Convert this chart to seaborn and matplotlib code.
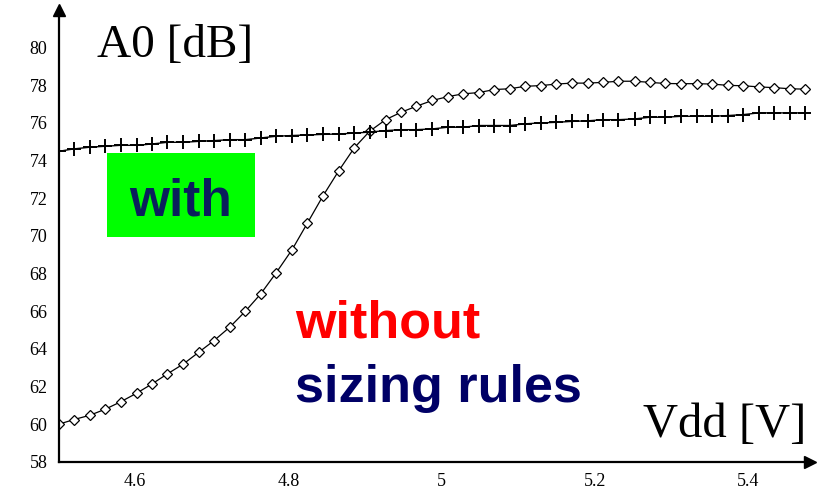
import numpy as np
import pandas as pd
import seaborn as sns
import matplotlib.pyplot as plt
from matplotlib.patches import Rectangle

# Vdd sweep (V)
vdd = [4.500, 4.520, 4.541, 4.561, 4.581, 4.602, 4.622, 4.642, 4.663, 4.683,
       4.703, 4.724, 4.744, 4.764, 4.784, 4.805, 4.825, 4.845, 4.866, 4.886,
       4.906, 4.927, 4.947, 4.967, 4.988, 5.008, 5.028, 5.049, 5.069, 5.089,
       5.109, 5.130, 5.150, 5.170, 5.191, 5.211, 5.231, 5.252, 5.272, 5.292,
       5.313, 5.333, 5.353, 5.374, 5.394, 5.414, 5.434, 5.455, 5.475]

# A0 without sizing rules (dB)
a0_without = [60.0, 60.25, 60.48, 60.8, 61.19, 61.65, 62.14, 62.67, 63.2, 63.82,
              64.44, 65.17, 66.0, 66.92, 68.03, 69.27, 70.68, 72.1, 73.46, 74.66,
              75.54, 76.16, 76.55, 76.87, 77.18, 77.38, 77.53, 77.6, 77.76, 77.8,
              77.93, 77.97, 78.05, 78.1, 78.1, 78.14, 78.2, 78.2, 78.14, 78.08,
              78.07, 78.07, 78.05, 77.98, 77.96, 77.9, 77.86, 77.8, 77.78]

# A0 with sizing rules (dB)
a0_with = [74.48, 74.61, 74.7, 74.75, 74.8, 74.8, 74.87, 74.96, 74.96, 75.01,
           75.05, 75.1, 75.1, 75.19, 75.28, 75.32, 75.35, 75.38, 75.4, 75.45,
           75.5, 75.58, 75.63, 75.63, 75.67, 75.76, 75.76, 75.85, 75.85, 75.85,
           75.94, 75.99, 76.02, 76.07, 76.1, 76.16, 76.16, 76.2, 76.29, 76.29,
           76.34, 76.34, 76.34, 76.38, 76.43, 76.52, 76.52, 76.52, 76.52]

x_ticks = [4.6, 4.8, 5.0, 5.2, 5.4]
x_ticklabels = ["4.6", "4.8", "5", "5.2", "5.4"]
y_ticks = [58, 60, 62, 64, 66, 68, 70, 72, 74, 76, 78, 80]

df = pd.DataFrame({"vdd": vdd, "without": a0_without, "with": a0_with})

sns.set_style("white")
plt.rcParams["font.family"] = ["Liberation Serif", "DejaVu Serif"]

fig = plt.figure(figsize=(8.35, 4.92), dpi=100)
ax = fig.add_axes([58.5 / 835, 30 / 492, (810 - 58.5) / 835, (462.4 - 10) / 492])

sns.lineplot(data=df, x="vdd", y="without", ax=ax, color="black", lw=0.9,
             marker="D", markersize=5, markerfacecolor="white",
             markeredgecolor="black", markeredgewidth=0.9)
sns.lineplot(data=df, x="vdd", y="with", ax=ax, color="black", lw=1.0,
             marker="+", markersize=10, markeredgewidth=1.4,
             markeredgecolor="black", markerfacecolor="black")

ax.set_xlim(4.5, 5.481)
ax.set_ylim(58, 82.0)
ax.set_xticks(x_ticks)
ax.set_xticklabels(x_ticklabels)
ax.set_yticks(y_ticks)
ax.set_xlabel("")
ax.set_ylabel("")
for s in ["top", "right"]:
    ax.spines[s].set_visible(False)
for s in ["left", "bottom"]:
    ax.spines[s].set_color("black")
    ax.spines[s].set_linewidth(1.6)
ax.tick_params(direction="in", length=8, width=1.3, labelsize=13,
               colors="black", pad=8)

# axis arrows
ax.plot([1.0], [0.0], marker=">", ms=8, color="black",
        transform=ax.transAxes, clip_on=False)
ax.plot([0.0], [1.0], marker="^", ms=8, color="black",
        transform=ax.transAxes, clip_on=False)

# axis titles inside the plot
fig.text(97 / 835, 1 - 57 / 492, "A0 [dB]", fontsize=34, color="black",
         ha="left", va="baseline")
fig.text(643 / 835, 1 - 437 / 492, "Vdd [V]", fontsize=35, color="black",
         ha="left", va="baseline")

# annotations
fig.patches.append(Rectangle((107 / 835, 1 - 237 / 492), 148 / 835, 84 / 492,
                             transform=fig.transFigure, facecolor="#00ff00",
                             edgecolor="none", zorder=3))
fig.text(181 / 835, 1 - 215 / 492, "with", family="Liberation Sans",
         weight="bold", fontsize=37, color="#0a1f5c", ha="center",
         va="baseline", zorder=4)
fig.text(295 / 835, 1 - 337 / 492, "without", family="Liberation Sans",
         weight="bold", fontsize=37.5, color="#ff0000", ha="left",
         va="baseline")
fig.text(295 / 835, 1 - 402 / 492, "sizing rules", family="Liberation Sans",
         weight="bold", fontsize=37.5, color="#000066", ha="left",
         va="baseline")

fig.savefig("out.png", dpi=100)
